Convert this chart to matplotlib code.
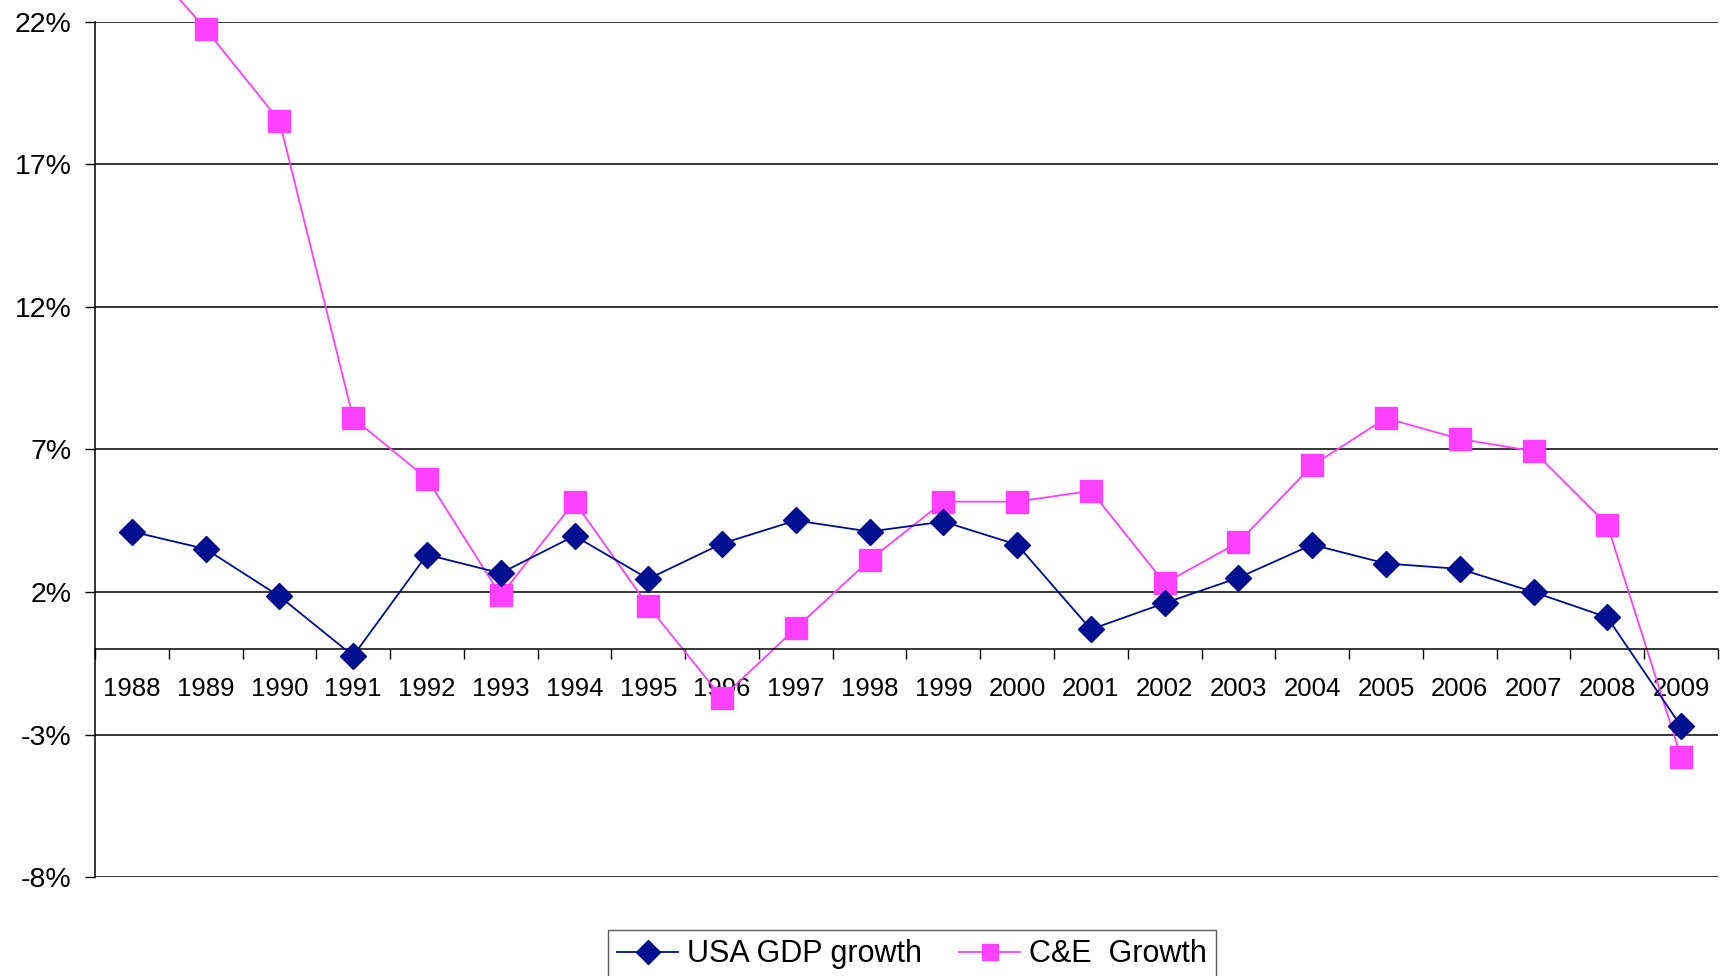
import numpy as np
import matplotlib
matplotlib.use("Agg")
import matplotlib.pyplot as plt

plt.rcParams['font.family'] = ['Liberation Sans', 'DejaVu Sans']

years = [str(y) for y in range(1988, 2010)]
gdp = [4.12, 3.51, 1.85, -0.24, 3.31, 2.66, 3.97, 2.46, 3.70, 4.51, 4.12,
       4.47, 3.66, 0.69, 1.61, 2.50, 3.66, 3.00, 2.81, 2.00, 1.11, -2.71]
ce = [24.7, 21.75, 18.53, 8.10, 5.98, 1.88, 5.17, 1.50, -1.71, 0.73, 3.12,
      5.17, 5.17, 5.55, 2.31, 3.74, 6.44, 8.10, 7.37, 6.94, 4.36, -3.79]
yticks = [-8, -3, 2, 7, 12, 17, 22]

fig = plt.figure(figsize=(17.24, 9.76), dpi=100)
ax = fig.add_axes([0.0551, 0.1014, 0.9414, 0.8761])

x = np.arange(len(years))
for yt in yticks:
    ax.axhline(yt, color='black', lw=1.1, zorder=1)

ax.plot(x, gdp, color='#000B8F', lw=1.3, marker='D', markersize=13.5,
        markerfacecolor='#001090', markeredgecolor='#000B8F', label='USA GDP growth',
        zorder=3, clip_on=False)
ax.plot(x, ce, color='#FF40FF', lw=1.3, marker='s', markersize=16,
        markerfacecolor='#FF40FF', markeredgecolor='#FF40FF', label='C&E  Growth',
        zorder=2, clip_on=False)

ax.set_xlim(-0.5, len(years) - 0.5)
ax.set_ylim(-8, 22)
ax.set_yticks(yticks)
ax.set_yticklabels([f'{v}%' for v in yticks], fontsize=20.5)
ax.tick_params(axis='y', length=7, width=1, pad=10, color='black')

ax.spines['top'].set_visible(False)
ax.spines['right'].set_visible(False)
ax.spines['left'].set_linewidth(1.1)
ax.spines['bottom'].set_position(('data', 0))
ax.spines['bottom'].set_linewidth(1.1)

ax.set_xticks(x)
ax.set_xticklabels(years, fontsize=18.5)
ax.tick_params(axis='x', which='major', length=0, pad=20)
ax.set_xticks(np.arange(-0.5, len(years)), minor=True)
ax.tick_params(axis='x', which='minor', length=7, width=1, direction='out')

leg = fig.legend(loc='upper left', bbox_to_anchor=(0.3527, 0.0471), ncol=2,
                 prop={'size': 22},
                 frameon=True, fancybox=False, edgecolor='#333333',
                 handlelength=2.0, handletextpad=0.3, columnspacing=1.2,
                 borderpad=0.3, borderaxespad=0)
leg.get_frame().set_linewidth(1.0)
for h in leg.legend_handles:
    h.set_markersize(12)

fig.savefig('out.png', dpi=100)
